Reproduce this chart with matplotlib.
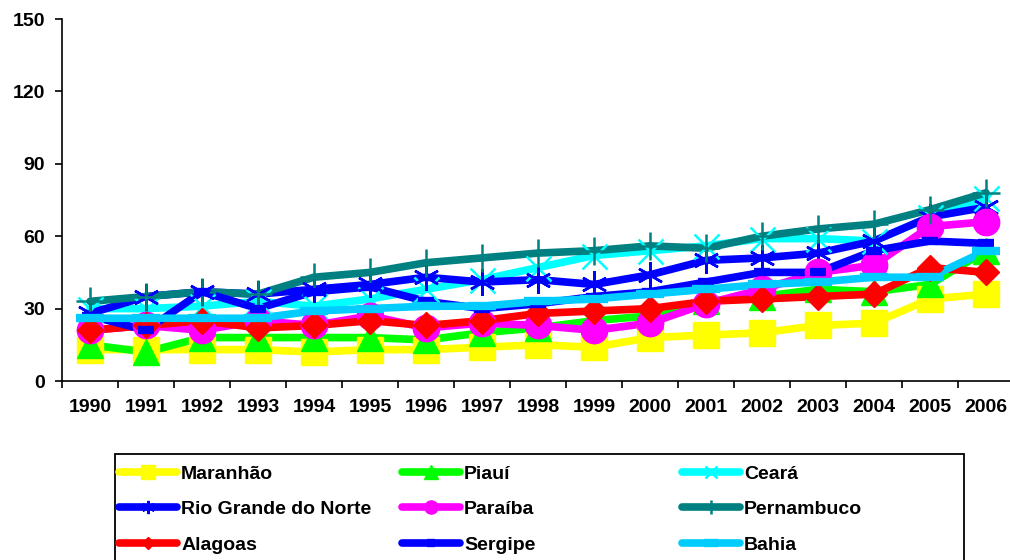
import matplotlib
matplotlib.use("Agg")
import matplotlib.pyplot as plt
from matplotlib.patches import Rectangle

years = [str(y) for y in range(1990, 2007)]

maranhao = [13, 13, 13, 13, 12, 13, 13, 14, 15, 14, 18, 19, 20, 23, 24, 34, 36]
piaui = [15, 12, 18, 18, 18, 18, 17, 20, 22, 25, 27, 33, 35, 38, 37, 40, 54]
ceara = [30, 30, 31, 33, 31, 34, 38, 42, 47, 52, 54, 56, 59, 59, 58, 68, 76]
rgn = [28, 35, 37, 36, 38, 40, 43, 41, 42, 40, 44, 50, 51, 53, 58, 68, 72]
paraiba = [21, 23, 21, 25, 23, 27, 22, 24, 23, 21, 24, 32, 38, 45, 48, 64, 66]
pernambuco = [33, 35, 37, 36, 43, 45, 49, 51, 53, 54, 56, 55, 60, 63, 65, 71, 78]
alagoas = [21, 23, 25, 22, 23, 25, 23, 25, 28, 29, 30, 33, 34, 35, 36, 47, 45]
sergipe = [27, 21, 37, 30, 37, 39, 33, 30, 32, 35, 37, 41, 45, 45, 54, 58, 57]
bahia = [26, 26, 26, 26, 29, 30, 31, 31, 33, 34, 36, 38, 40, 41, 43, 43, 54]

series = [
    ("Maranhão", maranhao, "#FFFF00", "s", 19, 1),
    ("Piauí", piaui, "#00FF00", "^", 19, 1),
    ("Ceará", ceara, "#00FFFF", "x", 18, 1.8),
    ("Rio Grande do Norte", rgn, "#0000FF", (6, 2, 0), 19, 1.8),
    ("Paraíba", paraiba, "#FF00FF", "o", 19, 1),
    ("Pernambuco", pernambuco, "#008080", "+", 20, 1.8),
    ("Alagoas", alagoas, "#FF0000", "D", 13, 1),
    ("Sergipe", sergipe, "#0000FF", "_", 11, 6),
    ("Bahia", bahia, "#00CCFF", "_", 20, 6),
]

font = "Liberation Sans"
plt.rcParams["font.family"] = [font, "DejaVu Sans"]
plt.rcParams["font.weight"] = "bold"

fig = plt.figure(figsize=(10.1, 5.6), dpi=100)
ax = fig.add_axes([62 / 1010, 179 / 560, 952 / 1010, 362 / 560])

x = list(range(len(years)))
handles = {}
# lines first, then markers on top (like the spreadsheet drawing)
for name, vals, color, mk, ms, mew in series:
    ln, = ax.plot(x, vals, color=color, lw=5.5, zorder=2, solid_capstyle="round")
    handles[name] = [ln]
for name, vals, color, mk, ms, mew in series:
    mkl, = ax.plot(x, vals, ls="none", marker=mk, markersize=ms, color=color,
                   markeredgewidth=mew, markeredgecolor=color, zorder=3, clip_on=False)
    handles[name].append(mkl)

ax.set_ylim(0, 150)
ax.set_yticks(range(0, 151, 30))
ax.set_xlim(-0.5, len(years) - 0.5)
ax.set_xticks([i - 0.5 for i in range(len(years) + 1)])
ax.set_xticklabels([])
ax.set_xticks(x, minor=True)
ax.set_xticklabels(years, minor=True)
ax.tick_params(axis="x", which="minor", length=0, pad=13, labelsize=14)
ax.tick_params(axis="x", which="major", length=5, width=1.2, direction="out")
ax.tick_params(axis="y", length=5, width=1.2, direction="out", labelsize=14, pad=7)
for s in ["top", "right"]:
    ax.spines[s].set_visible(False)
for s in ["left", "bottom"]:
    ax.spines[s].set_linewidth(1.2)
for t in ax.get_xticklabels(minor=True) + ax.get_yticklabels():
    t.set_fontweight("bold")

cols = [["Maranhão", "Rio Grande do Norte", "Alagoas"],
        ["Piauí", "Paraíba", "Sergipe"],
        ["Ceará", "Pernambuco", "Bahia"]]
col_x = [119, 402, 682]
prop = {"family": font, "weight": "bold", "size": 14}
for cx, names in zip(col_x, cols):
    leg = fig.legend([tuple(handles[n]) for n in names], names, loc="upper left",
                     bbox_to_anchor=(cx / 1010, 1 - 465 / 560), frameon=False,
                     prop=prop, markerscale=0.5, handlelength=3.0, handletextpad=0.2,
                     labelspacing=0.92, borderpad=0, borderaxespad=0)

fig.add_artist(Rectangle((115 / 1010, -0.05), (964 - 115) / 1010, 0.05 + (560 - 454) / 560,
                         transform=fig.transFigure, fill=False, edgecolor="black", lw=1.3))

fig.savefig("out.png", dpi=100)
